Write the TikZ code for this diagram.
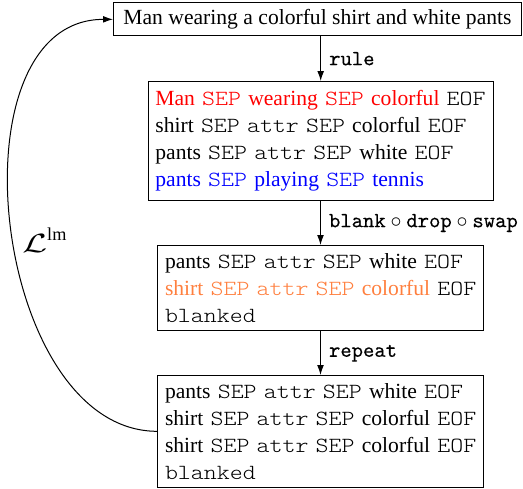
\documentclass[tikz,border=0pt]{standalone}
\usepackage{amsmath}
\usepackage{graphicx}
\usepackage{fontspec}
\setmainfont{Liberation Serif}
\setmonofont{Latin Modern Mono Light}[FakeStretch=1.143]
\newfontfamily\lblfont{Latin Modern Mono}[FakeBold=0.25]
\usetikzlibrary{arrows.meta}
\definecolor{myred}{RGB}{255,0,0}
\definecolor{myblue}{RGB}{0,0,255}
\definecolor{myorange}{RGB}{255,127,62}
\newcommand{\ttw}[1]{\texttt{#1}}
\begin{document}
\begin{tikzpicture}[x=0.5pt,y=-0.5pt,
  every node/.style={font=\fontsize{10.8}{13.5}\selectfont},
  box/.style={draw,line width=0.5pt,anchor=north west,align=left,inner xsep=3.6pt,inner ysep=0pt},
  arr/.style={-{Latex[length=5pt,width=3.4pt]},line width=0.5pt},
  lbl/.style={anchor=west,inner sep=0pt,xshift=4pt,font=\fontsize{10.8}{13.5}\selectfont\lblfont}]
\useasboundingbox (0,0) rectangle (523,488);
\node[draw,line width=0.5pt,minimum width=204pt,minimum height=16.5pt,inner sep=0pt] (top) at (317.5,19.35) {Man wearing a colorful shirt and white pants};
\node[box,text width=165.3pt,minimum height=59.5pt] (b2) at (147.7,81) {%
\mbox{\textcolor{myred}{Man \ttw{SEP} wearing \ttw{SEP} colorful} \ttw{EOF}}\\
\mbox{shirt \ttw{SEP} \ttw{attr} \ttw{SEP} colorful \ttw{EOF}}\\
\mbox{pants \ttw{SEP} \ttw{attr} \ttw{SEP} white \ttw{EOF}}\\
\mbox{\textcolor{myblue}{pants \ttw{SEP} playing \ttw{SEP} tennis}}};
\node[box,text width=155.5pt,minimum height=42.7pt] (b3) at (157.3,245) {%
\mbox{pants \ttw{SEP} \ttw{attr} \ttw{SEP} white \ttw{EOF}}\\
\mbox{\textcolor{myorange}{shirt \ttw{SEP} \ttw{attr} \ttw{SEP} colorful} \ttw{EOF}}\\
\mbox{\ttw{blanked}}};
\node[box,text width=155.5pt,minimum height=55.8pt] (b4) at (157.3,375) {%
\mbox{pants \ttw{SEP} \ttw{attr} \ttw{SEP} white \ttw{EOF}}\\
\mbox{shirt \ttw{SEP} \ttw{attr} \ttw{SEP} colorful \ttw{EOF}}\\
\mbox{shirt \ttw{SEP} \ttw{attr} \ttw{SEP} colorful \ttw{EOF}}\\
\mbox{\ttw{blanked}}};
\draw[arr] (top.south -| b2.north) -- node[lbl] {rule} (b2.north);
\draw[arr] (b2.south -| b3.north) -- node[lbl] {blank${}\circ{}$drop${}\circ{}$swap} (b3.north);
\draw[arr] (b3.south) -- node[lbl] {repeat} (b4.north);
\draw[arr] (b4.west) to[out=180,in=180,looseness=1.02] (top.west);
\node[anchor=base west,inner sep=0pt,font=\fontsize{13}{15}\selectfont] (lm) at (22,252) {$\scalebox{1.5}[1.1]{$\mathcal{L}$}^{\text{lm}}$};
\end{tikzpicture}
\end{document}
